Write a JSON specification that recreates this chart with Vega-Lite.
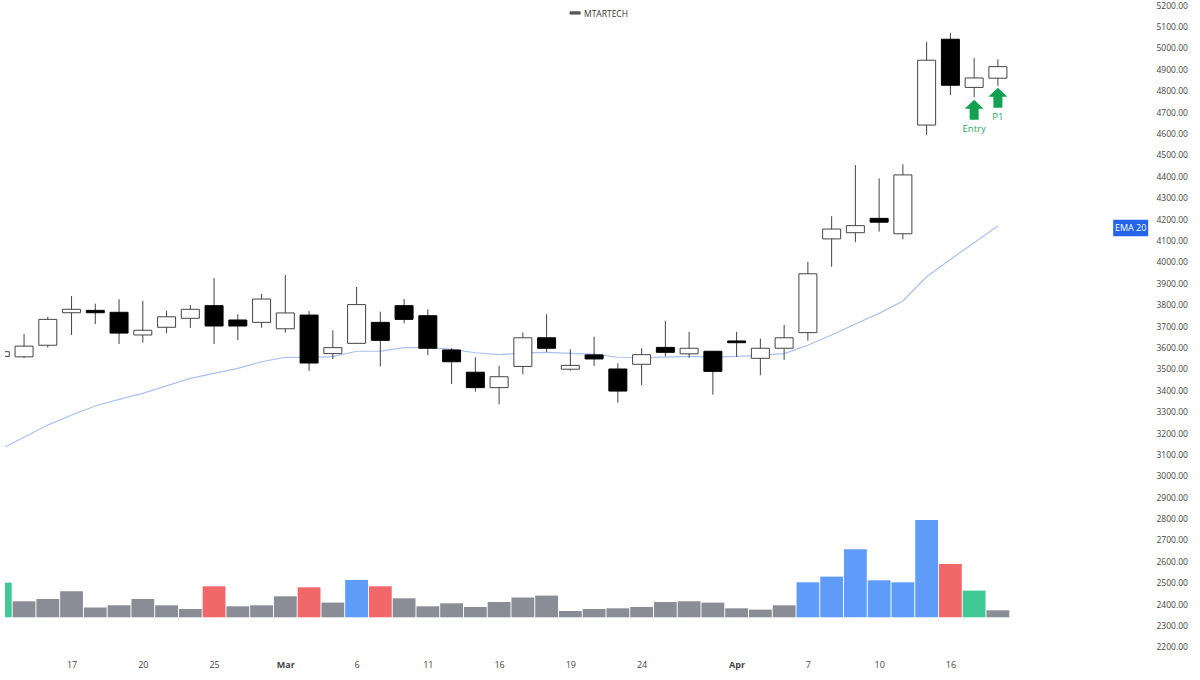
{
  "$schema": "https://vega.github.io/schema/vega-lite/v6.json",
  "autosize": "none",
  "padding": {"left": 5, "top": 0, "right": 47, "bottom": 25},
  "width": 1148,
  "height": 655,
  "background": "white",
  "title": {"text": "MTARTECH", "anchor": "middle", "frame": "group", "offset": 0, "dx": 27, "dy": 18, "fontSize": 8.5, "fontWeight": "normal", "color": "#333333", "font": "Open Sans"},
  "config": {"view": {"stroke": null}, "font": "Open Sans"},
  "datasets": {
    "bars": [
      {"bar": 0, "open": 3558, "high": 3590, "low": 3550, "close": 3580, "dir": "up", "ema": 3124, "volume": 34.7, "vol_type": "up"},
      {"bar": 1, "open": 3556, "high": 3663, "low": 3550, "close": 3606, "dir": "up", "ema": 3180, "volume": 16, "vol_type": "neutral"},
      {"bar": 2, "open": 3610, "high": 3743, "low": 3599, "close": 3731, "dir": "up", "ema": 3237, "volume": 18.3, "vol_type": "neutral"},
      {"bar": 3, "open": 3762, "high": 3840, "low": 3658, "close": 3778, "dir": "up", "ema": 3284, "volume": 26, "vol_type": "neutral"},
      {"bar": 4, "open": 3773, "high": 3804, "low": 3709, "close": 3762, "dir": "down", "ema": 3326, "volume": 9.7, "vol_type": "neutral"},
      {"bar": 5, "open": 3764, "high": 3825, "low": 3616, "close": 3667, "dir": "down", "ema": 3357, "volume": 12, "vol_type": "neutral"},
      {"bar": 6, "open": 3658, "high": 3817, "low": 3622, "close": 3680, "dir": "up", "ema": 3385, "volume": 18.3, "vol_type": "neutral"},
      {"bar": 7, "open": 3694, "high": 3771, "low": 3666, "close": 3743, "dir": "up", "ema": 3420, "volume": 12, "vol_type": "neutral"},
      {"bar": 8, "open": 3736, "high": 3798, "low": 3691, "close": 3778, "dir": "up", "ema": 3455, "volume": 8.3, "vol_type": "neutral"},
      {"bar": 9, "open": 3795, "high": 3924, "low": 3616, "close": 3700, "dir": "down", "ema": 3479, "volume": 31, "vol_type": "down"},
      {"bar": 10, "open": 3728, "high": 3755, "low": 3634, "close": 3700, "dir": "down", "ema": 3502, "volume": 11, "vol_type": "neutral"},
      {"bar": 11, "open": 3717, "high": 3850, "low": 3692, "close": 3826, "dir": "up", "ema": 3533, "volume": 12, "vol_type": "neutral"},
      {"bar": 12, "open": 3687, "high": 3938, "low": 3669, "close": 3761, "dir": "up", "ema": 3554, "volume": 21, "vol_type": "neutral"},
      {"bar": 13, "open": 3751, "high": 3770, "low": 3490, "close": 3527, "dir": "down", "ema": 3552, "volume": 30, "vol_type": "down"},
      {"bar": 14, "open": 3571, "high": 3680, "low": 3546, "close": 3599, "dir": "up", "ema": 3557, "volume": 14.7, "vol_type": "neutral"},
      {"bar": 15, "open": 3619, "high": 3882, "low": 3617, "close": 3800, "dir": "up", "ema": 3582, "volume": 37.3, "vol_type": "high"},
      {"bar": 16, "open": 3717, "high": 3767, "low": 3511, "close": 3633, "dir": "down", "ema": 3583, "volume": 31, "vol_type": "down"},
      {"bar": 17, "open": 3795, "high": 3826, "low": 3712, "close": 3731, "dir": "down", "ema": 3599, "volume": 19, "vol_type": "neutral"},
      {"bar": 18, "open": 3748, "high": 3778, "low": 3563, "close": 3596, "dir": "down", "ema": 3599, "volume": 11, "vol_type": "neutral"},
      {"bar": 19, "open": 3588, "high": 3596, "low": 3429, "close": 3533, "dir": "down", "ema": 3591, "volume": 14, "vol_type": "neutral"},
      {"bar": 20, "open": 3484, "high": 3554, "low": 3393, "close": 3412, "dir": "down", "ema": 3575, "volume": 10.3, "vol_type": "neutral"},
      {"bar": 21, "open": 3412, "high": 3514, "low": 3334, "close": 3463, "dir": "up", "ema": 3566, "volume": 15.3, "vol_type": "neutral"},
      {"bar": 22, "open": 3511, "high": 3670, "low": 3474, "close": 3645, "dir": "up", "ema": 3574, "volume": 19.7, "vol_type": "neutral"},
      {"bar": 23, "open": 3645, "high": 3755, "low": 3578, "close": 3596, "dir": "down", "ema": 3577, "volume": 21.7, "vol_type": "neutral"},
      {"bar": 24, "open": 3498, "high": 3591, "low": 3491, "close": 3516, "dir": "up", "ema": 3572, "volume": 6.3, "vol_type": "neutral"},
      {"bar": 25, "open": 3565, "high": 3650, "low": 3513, "close": 3546, "dir": "down", "ema": 3569, "volume": 8.3, "vol_type": "neutral"},
      {"bar": 26, "open": 3499, "high": 3526, "low": 3341, "close": 3396, "dir": "down", "ema": 3554, "volume": 9, "vol_type": "neutral"},
      {"bar": 27, "open": 3521, "high": 3596, "low": 3424, "close": 3566, "dir": "up", "ema": 3552, "volume": 10.3, "vol_type": "neutral"},
      {"bar": 28, "open": 3600, "high": 3725, "low": 3558, "close": 3577, "dir": "down", "ema": 3555, "volume": 15.3, "vol_type": "neutral"},
      {"bar": 29, "open": 3570, "high": 3673, "low": 3552, "close": 3596, "dir": "up", "ema": 3558, "volume": 16, "vol_type": "neutral"},
      {"bar": 30, "open": 3582, "high": 3582, "low": 3379, "close": 3488, "dir": "down", "ema": 3555, "volume": 14.7, "vol_type": "neutral"},
      {"bar": 31, "open": 3630, "high": 3673, "low": 3556, "close": 3622, "dir": "down", "ema": 3558, "volume": 9, "vol_type": "neutral"},
      {"bar": 32, "open": 3549, "high": 3641, "low": 3470, "close": 3596, "dir": "up", "ema": 3563, "volume": 7.7, "vol_type": "neutral"},
      {"bar": 33, "open": 3596, "high": 3706, "low": 3542, "close": 3645, "dir": "up", "ema": 3571, "volume": 12, "vol_type": "neutral"},
      {"bar": 34, "open": 3669, "high": 4000, "low": 3631, "close": 3944, "dir": "up", "ema": 3610, "volume": 35, "vol_type": "high"},
      {"bar": 35, "open": 4107, "high": 4213, "low": 3977, "close": 4153, "dir": "up", "ema": 3658, "volume": 40.7, "vol_type": "high"},
      {"bar": 36, "open": 4136, "high": 4452, "low": 4092, "close": 4169, "dir": "up", "ema": 3709, "volume": 68, "vol_type": "high"},
      {"bar": 37, "open": 4203, "high": 4390, "low": 4141, "close": 4185, "dir": "down", "ema": 3759, "volume": 37, "vol_type": "high"},
      {"bar": 38, "open": 4131, "high": 4456, "low": 4105, "close": 4406, "dir": "up", "ema": 3817, "volume": 35, "vol_type": "high"},
      {"bar": 39, "open": 4639, "high": 5027, "low": 4593, "close": 4942, "dir": "up", "ema": 3930, "volume": 97.3, "vol_type": "high"},
      {"bar": 40, "open": 5040, "high": 5070, "low": 4779, "close": 4825, "dir": "down", "ema": 4011, "volume": 53.3, "vol_type": "down"},
      {"bar": 41, "open": 4815, "high": 4952, "low": 4769, "close": 4859, "dir": "up", "ema": 4089, "volume": 26.7, "vol_type": "up"},
      {"bar": 42, "open": 4858, "high": 4946, "low": 4822, "close": 4912, "dir": "up", "ema": 4167, "volume": 7, "vol_type": "neutral"}
    ],
    "signals": [
      {"bar": 41, "price": 4710, "label": "Entry", "label_price": 4621},
      {"bar": 42, "price": 4767, "label": "P1", "label_price": 4678}
    ],
    "ema_tag": [
      {"bar": 47.59, "price": 4158, "label": "EMA 20"}
    ],
    "icon": [
      {"bar": 24.2, "price": 5163}
    ]
  },
  "encoding": {
    "x": {
      "field": "bar",
      "type": "quantitative",
      "scale": {"domain": [0.198, 48.53], "nice": false, "zero": false, "padding": 0},
      "axis": {
        "title": null,
        "grid": false,
        "domain": false,
        "ticks": false,
        "values": [3, 6, 9, 12, 15, 18, 21, 24, 27, 31, 34, 37, 40],
        "labelExpr": "{3:'17',6:'20',9:'25',12:'Mar',15:'6',18:'11',21:'16',24:'19',27:'24',31:'Apr',34:'7',37:'10',40:'16'}[datum.value]",
        "labelFontSize": 9,
        "labelPadding": 5,
        "labelColor": "#444444",
        "labelOverlap": false,
        "labelFontWeight": {"condition": {"test": "datum.value == 12 || datum.value == 31", "value": "bold"}, "value": "normal"}
      }
    }
  },
  "layer": [
    {
      "data": {"name": "bars"},
      "mark": {"type": "bar", "size": 22.8, "orient": "vertical", "clip": true},
      "encoding": {
        "y": {"field": "volume", "type": "quantitative", "scale": {"domain": [-37.7, 617.3], "nice": false}, "axis": null},
        "color": {
          "field": "vol_type",
          "type": "nominal",
          "scale": {"domain": ["neutral", "down", "high", "up"], "range": ["#8a8d96", "#f2686a", "#5f9bf8", "#40c997"]},
          "legend": null
        }
      }
    },
    {
      "encoding": {
        "y": {
          "type": "quantitative",
          "scale": {"domain": [2162.6, 5223.4], "nice": false, "zero": false},
          "axis": {
            "title": null,
            "orient": "right",
            "grid": false,
            "domain": false,
            "ticks": false,
            "values": [2200, 2300, 2400, 2500, 2600, 2700, 2800, 2900, 3000, 3100, 3200, 3300, 3400, 3500, 3600, 3700, 3800, 3900, 4000, 4100, 4200, 4300, 4400, 4500, 4600, 4700, 4800, 4900, 5000, 5100, 5200],
            "format": ".2f",
            "labelFontSize": 8.5,
            "labelPadding": 3,
            "labelColor": "#444444",
            "labelOverlap": false
          }
        }
      },
      "layer": [
        {
          "data": {"name": "bars"},
          "mark": {"type": "line", "color": "#a9c1ee", "strokeWidth": 1.2, "clip": true},
          "encoding": {
            "y": {"field": "ema", "type": "quantitative"}
          }
        },
        {
          "data": {"name": "bars"},
          "mark": {"type": "rule", "color": "#444444", "strokeWidth": 1, "clip": true},
          "encoding": {
            "y": {"field": "low", "type": "quantitative"},
            "y2": {"field": "high"}
          }
        },
        {
          "data": {"name": "bars"},
          "mark": {"type": "bar", "size": 18, "orient": "vertical", "clip": true, "strokeWidth": 1},
          "encoding": {
            "y": {"field": "open", "type": "quantitative"},
            "y2": {"field": "close"},
            "fill": {"field": "dir", "type": "nominal", "scale": {"domain": ["up", "down"], "range": ["#ffffff", "#000000"]}, "legend": null},
            "stroke": {"field": "dir", "type": "nominal", "scale": {"domain": ["up", "down"], "range": ["#444444", "#000000"]}, "legend": null}
          }
        },
        {
          "data": {"name": "signals"},
          "mark": {"type": "point", "shape": "M0,-1L0.95,-0.1L0.45,-0.1L0.45,1L-0.45,1L-0.45,-0.1L-0.95,-0.1Z", "size": 400, "filled": true, "opacity": 1, "color": "#12a150"},
          "encoding": {
            "y": {"field": "price", "type": "quantitative"}
          }
        },
        {
          "data": {"name": "signals"},
          "mark": {"type": "text", "fontSize": 9.5, "color": "#2ba56b"},
          "encoding": {
            "y": {"field": "label_price", "type": "quantitative"},
            "text": {"field": "label"}
          }
        },
        {
          "data": {"name": "ema_tag"},
          "mark": {"type": "point", "shape": "M-1,-0.47L1,-0.47L1,0.47L-1,0.47Z", "size": 1225, "filled": true, "opacity": 1, "color": "#2563eb"},
          "encoding": {
            "y": {"field": "price", "type": "quantitative"}
          }
        },
        {
          "data": {"name": "ema_tag"},
          "mark": {"type": "text", "fontSize": 9, "color": "#ffffff"},
          "encoding": {
            "y": {"field": "price", "type": "quantitative"},
            "text": {"field": "label"}
          }
        },
        {
          "data": {"name": "icon"},
          "mark": {"type": "point", "shape": "M-1,-0.3L1,-0.3L1,0.3L-1,0.3Z", "size": 121, "filled": true, "opacity": 1, "color": "#555555"},
          "encoding": {
            "y": {"field": "price", "type": "quantitative"}
          }
        }
      ]
    }
  ],
  "resolve": {"scale": {"y": "independent", "fill": "independent", "stroke": "independent"}}
}
